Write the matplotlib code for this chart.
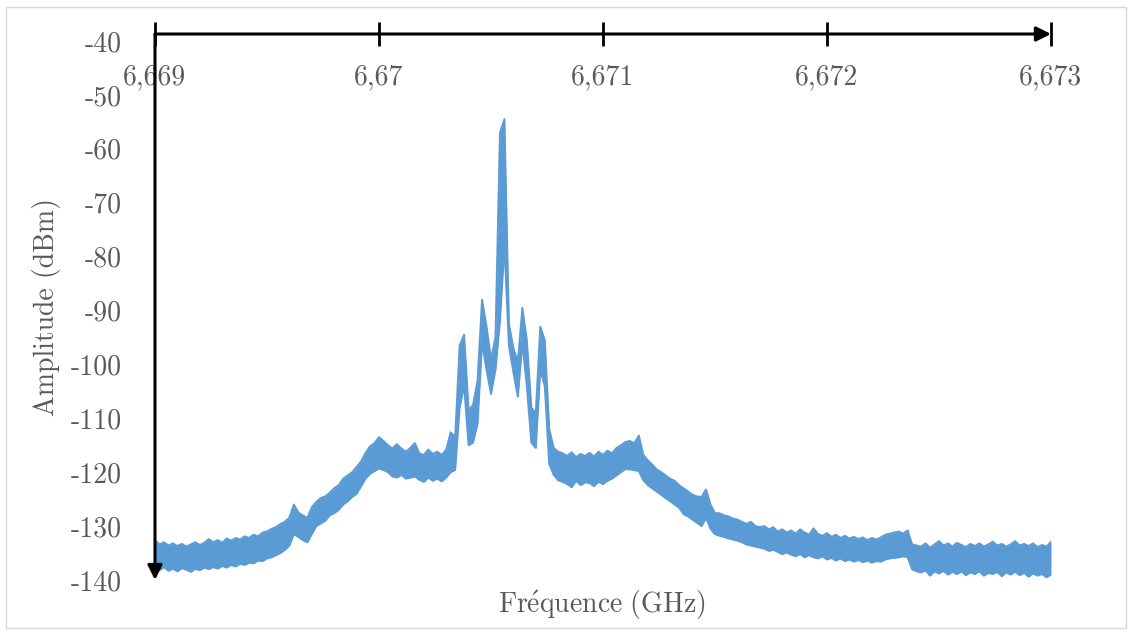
import numpy as np
import matplotlib
matplotlib.use("Agg")
import matplotlib.pyplot as plt
from matplotlib.patches import Rectangle

plt.rcParams['font.family'] = ['cmr10', 'DejaVu Serif']
plt.rcParams['mathtext.fontset'] = 'cm'
plt.rcParams['axes.unicode_minus'] = False

# spectrum, one pair (upper / lower edge of the noise band)
# every 0.00002 GHz from 6.669 to 6.673
amp_hi = [
    -132.6, -133.4, -133.0, -133.6, -133.2, -133.7, -133.3, -133.8, -133.4, -133.0,
    -133.5, -133.1, -132.4, -133.0, -132.6, -133.1, -132.3, -132.7, -132.2, -132.5,
    -131.9, -132.2, -131.6, -131.9, -131.2, -131.0, -130.5, -130.2, -129.6, -129.2,
    -128.4, -126.0, -127.5, -128.0, -128.5, -126.5, -125.5, -124.8, -124.5, -123.8,
    -123.0, -122.4, -121.2, -120.6, -120.0, -119.0, -118.0, -116.4, -115.2, -114.6,
    -113.5, -114.2, -115.0, -115.6, -114.8, -115.6, -116.2, -115.5, -114.6, -116.5,
    -116.8, -115.8, -116.6, -116.2, -116.8, -115.8, -112.6, -113.5, -96.5, -94.5,
    -108.5, -107.5, -103.0, -88.0, -93.0, -99.0, -95.0, -57.0, -54.5, -92.5,
    -97.0, -99.5, -89.5, -95.5, -108.0, -109.0, -93.0, -95.5, -112.0, -115.5,
    -116.2, -116.5, -117.0, -116.3, -117.2, -116.6, -117.0, -116.4, -117.1, -116.2,
    -116.8, -116.0, -116.5, -115.5, -115.0, -114.4, -114.2, -114.6, -113.2, -116.8,
    -117.8, -118.6, -119.5, -120.0, -120.6, -121.2, -121.6, -122.4, -123.0, -123.6,
    -124.2, -124.5, -124.6, -123.2, -126.0, -127.6, -127.6, -128.0, -128.2, -128.6,
    -128.8, -129.2, -129.6, -129.2, -130.0, -130.2, -130.0, -130.6, -130.2, -131.0,
    -130.6, -131.2, -130.8, -131.4, -130.6, -131.2, -131.6, -130.4, -131.5, -131.8,
    -131.3, -132.0, -131.6, -132.2, -131.8, -132.3, -132.0, -132.4, -132.1, -132.6,
    -132.2, -132.5, -132.1, -131.6, -131.4, -131.2, -131.0, -131.4, -130.8, -133.4,
    -133.6, -133.8, -133.2, -134.0, -133.4, -132.8, -133.6, -133.2, -133.8, -133.1,
    -133.5, -133.9, -133.3, -133.7, -133.2, -133.8, -133.4, -132.9, -133.6, -133.3,
    -133.8, -133.4, -132.8, -133.6, -133.3, -133.7, -133.2, -133.9, -133.5, -133.8,
    -132.9,
]
amp_lo = [
    -137.8, -138.2, -137.6, -138.3, -137.9, -138.4, -137.8, -138.1, -138.5, -137.9,
    -138.2, -137.7, -138.0, -137.6, -137.9, -137.4, -137.7, -137.2, -137.5, -137.0,
    -137.2, -136.8, -136.9, -136.4, -136.5, -136.0, -135.8, -135.4, -135.0, -134.4,
    -133.6, -131.5, -132.0, -132.6, -133.0, -131.5, -130.0, -129.5, -129.0, -128.0,
    -127.6, -127.0, -126.0, -125.4, -124.6, -124.0, -122.6, -121.2, -120.3, -119.8,
    -119.3, -119.6, -120.0, -120.8, -121.0, -120.5, -121.2, -121.0, -120.8, -121.4,
    -121.8, -121.0, -121.6, -121.2, -121.7, -121.0, -120.0, -119.6, -108.0, -104.0,
    -115.0, -114.5, -111.0, -96.0, -101.0, -105.5, -101.0, -92.0, -78.0, -96.5,
    -101.5, -106.0, -96.0, -104.0, -114.5, -115.5, -101.0, -104.0, -118.5, -120.5,
    -121.5, -121.8, -122.2, -122.8, -121.6, -122.4, -121.9, -122.0, -122.6, -121.8,
    -122.2, -121.6, -121.2, -120.6, -120.0, -119.4, -119.5, -119.6, -119.8, -121.5,
    -122.4, -123.0, -123.6, -124.2, -124.8, -125.4, -126.0, -126.6, -127.8, -128.2,
    -128.8, -129.4, -130.0, -128.5, -130.5, -131.5, -131.8, -132.0, -132.3, -132.5,
    -132.7, -133.0, -133.4, -133.6, -133.8, -134.0, -134.2, -134.6, -134.4, -134.8,
    -135.2, -134.9, -135.3, -135.6, -135.2, -135.8, -135.4, -135.8, -136.0, -135.6,
    -136.2, -135.9, -136.4, -136.0, -136.5, -136.2, -136.6, -136.3, -136.7, -136.4,
    -136.8, -136.5, -136.6, -136.2, -136.0, -135.9, -135.8, -135.6, -135.8, -138.0,
    -138.4, -138.6, -138.2, -139.2, -138.4, -138.8, -138.3, -139.0, -138.5, -138.9,
    -138.4, -139.1, -138.6, -138.9, -138.4, -139.2, -138.7, -138.9, -138.5, -139.3,
    -138.6, -139.0, -138.5, -139.1, -138.7, -139.4, -138.8, -139.2, -138.9, -139.5,
    -139.0,
]
freq = np.linspace(6.669, 6.673, len(amp_hi))

x_ticks = [6.669, 6.670, 6.671, 6.672, 6.673]
x_tick_labels = ["6,669", "6,67", "6,671", "6,672", "6,673"]
y_ticks = [-140, -130, -120, -110, -100, -90, -80, -70, -60, -50, -40]
y_tick_labels = ["-140", "-130", "-120", "-110", "-100", "-90", "-80", "-70", "-60", "-50", "-40"]

blue = "#5b9bd5"
grey = "#595959"

fig = plt.figure(figsize=(11.32, 6.33), dpi=100)
fig.patches.append(Rectangle((6 / 1132, 5 / 633), 1120 / 1132, 621 / 633,
                             transform=fig.transFigure, fill=False,
                             edgecolor="#d9d9d9", lw=1))
ax = fig.add_axes([155 / 1132, 53 / 633, 896 / 1132, 546 / 633])

ax.fill_between(freq, amp_lo, amp_hi, color=blue, lw=0)
ax.plot(freq, amp_hi, color=blue, lw=1.4)
ax.plot(freq, amp_lo, color=blue, lw=1.4)

ax.set_xlim(6.669, 6.673)
ax.set_ylim(-140, -38.7)

for s in ax.spines.values():
    s.set_visible(False)
ax.spines['bottom'].set_position(('axes', 1.0))

ax.set_xticks(x_ticks)
ax.set_xticklabels(x_tick_labels)
ax.set_yticks(y_ticks)
ax.set_yticklabels(y_tick_labels)
ax.tick_params(axis='x', direction='inout', length=17, width=2, color='black',
               pad=13, labelsize=20, labelcolor=grey)
ax.tick_params(axis='y', length=0, pad=24, labelsize=20, labelcolor=grey)

# axis lines with arrow heads
arrow = dict(arrowstyle='-|>', lw=2.2, color='black', mutation_scale=22,
             shrinkA=0, shrinkB=0)
ax.annotate('', xy=(1, 1), xytext=(0, 1), xycoords='axes fraction', arrowprops=arrow,
            annotation_clip=False, zorder=5)
ax.annotate('', xy=(0, 0), xytext=(0, 1), xycoords='axes fraction', arrowprops=arrow,
            annotation_clip=False, zorder=5)

ax.set_ylabel("Amplitude (dBm)", fontsize=20, color=grey, labelpad=7)
fig.text(602 / 1132, 1 - 605 / 633, r"$\mathrm{Fr\acute{e}quence\ (GHz)}$",
         fontsize=20, color=grey, ha='center', va='center')

fig.savefig("out.png", dpi=100)
